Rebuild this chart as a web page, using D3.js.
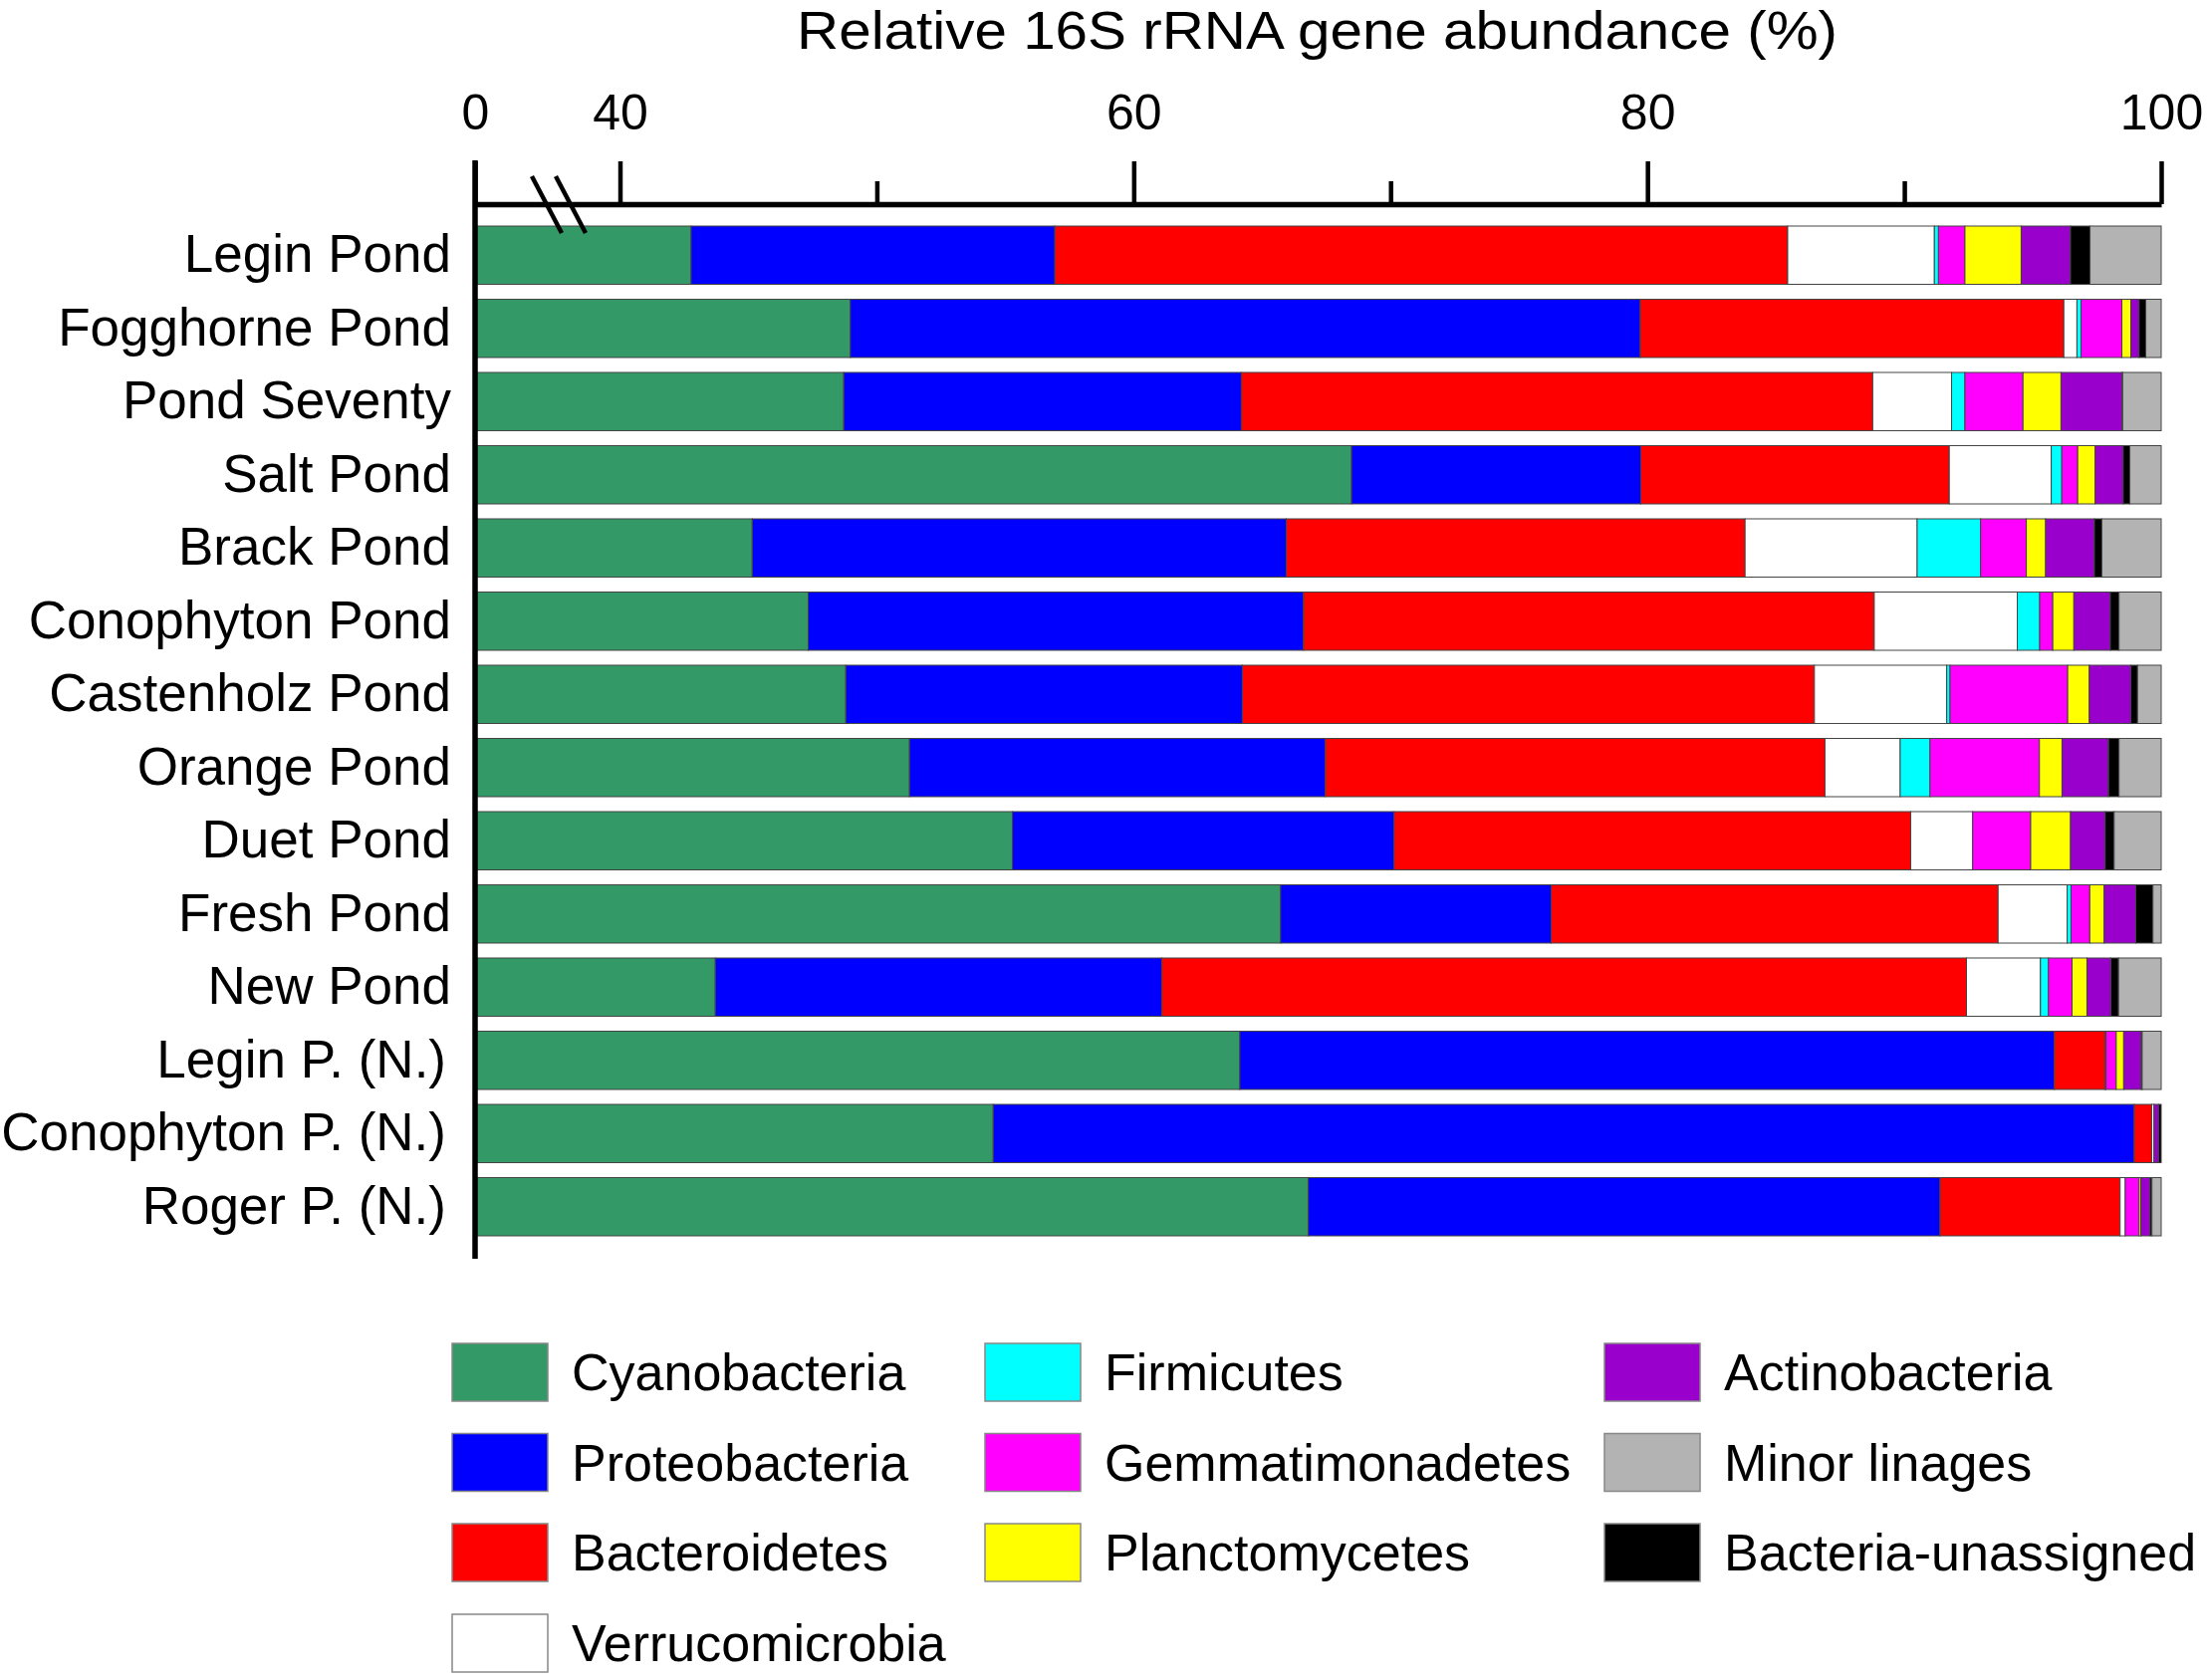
<!DOCTYPE html>
<html>
<head>
<meta charset="utf-8">
<script src="https://cdn.jsdelivr.net/npm/d3@7"></script>
<style>
  html, body { margin: 0; padding: 0; background: #fff; }
  svg { display: block; }
  text { font-family: "Liberation Sans", Arial, sans-serif; fill: #000; }
</style>
</head>
<body>
<svg id="chart" width="2217" height="1687"></svg>
<script>
// ---------------- DATA ----------------
const categories = ["Legin Pond", "Fogghorne Pond", "Pond Seventy", "Salt Pond", "Brack Pond",
  "Conophyton Pond", "Castenholz Pond", "Orange Pond", "Duet Pond", "Fresh Pond", "New Pond",
  "Legin P. (N.)", "Conophyton P. (N.)", "Roger P. (N.)"];

const phyla = ["Cyanobacteria", "Proteobacteria", "Bacteroidetes", "Verrucomicrobia", "Firmicutes",
  "Gemmatimonadetes", "Planctomycetes", "Actinobacteria", "Bacteria-unassigned", "Minor linages"];

const cyanobacteria    = [42.77, 48.97, 48.71, 68.48, 45.15, 47.33, 48.79, 51.27, 55.28, 65.72, 43.71, 64.13, 54.53, 66.80];
const proteobacteria   = [14.16, 30.75, 15.48, 11.26, 20.79, 19.28, 15.44, 16.19, 14.86, 10.53, 17.38, 31.71, 44.42, 24.59];
const bacteroidetes    = [28.53, 16.49, 24.58, 12.01, 17.86, 22.22, 22.27, 19.45, 20.11, 17.40, 31.33, 1.97, 0.68, 7.01];
const verrucomicrobia  = [5.71, 0.51, 3.07, 3.97, 6.70, 5.57, 5.15, 2.93, 2.41, 2.69, 2.88, 0.04, 0.09, 0.20];
const firmicutes       = [0.16, 0.16, 0.52, 0.41, 2.47, 0.87, 0.13, 1.16, 0.00, 0.15, 0.31, 0.00, 0.00, 0.00];
const gemmatimonadetes = [1.03, 1.59, 2.26, 0.62, 1.78, 0.51, 4.58, 4.26, 2.26, 0.73, 0.92, 0.40, 0.00, 0.54];
const planctomycetes   = [2.19, 0.35, 1.48, 0.68, 0.75, 0.82, 0.84, 0.88, 1.55, 0.56, 0.58, 0.29, 0.00, 0.07];
const actinobacteria   = [1.92, 0.32, 2.37, 1.09, 1.90, 1.42, 1.62, 1.81, 1.35, 1.23, 0.93, 0.68, 0.18, 0.36];
const unassigned       = [0.76, 0.26, 0.03, 0.26, 0.29, 0.34, 0.26, 0.41, 0.35, 0.67, 0.30, 0.04, 0.10, 0.07];
const minorLinages     = [2.77, 0.60, 1.50, 1.22, 2.31, 1.64, 0.92, 1.64, 1.83, 0.32, 1.66, 0.74, 0.00, 0.36];

const seriesValues = [cyanobacteria, proteobacteria, bacteroidetes, verrucomicrobia, firmicutes,
  gemmatimonadetes, planctomycetes, actinobacteria, unassigned, minorLinages];

const majorTicks = [0, 40, 60, 80, 100];
const minorTicks = [50, 70, 90];

const colors = {
  "Cyanobacteria": "#339966",
  "Proteobacteria": "#0000FF",
  "Bacteroidetes": "#FF0000",
  "Verrucomicrobia": "#FFFFFF",
  "Firmicutes": "#00FFFF",
  "Gemmatimonadetes": "#FF00FF",
  "Planctomycetes": "#FFFF00",
  "Actinobacteria": "#9900CC",
  "Bacteria-unassigned": "#000000",
  "Minor linages": "#B3B3B3"
};

// legend layout: columns of keys
const legendColumns = [
  ["Cyanobacteria", "Proteobacteria", "Bacteroidetes", "Verrucomicrobia"],
  ["Firmicutes", "Gemmatimonadetes", "Planctomycetes"],
  ["Actinobacteria", "Minor linages", "Bacteria-unassigned"]
];

// ---------------- BUILD TABLE ----------------
const table = categories.map((c, i) => {
  const row = { category: c };
  phyla.forEach((p, j) => { row[p] = seriesValues[j][i]; });
  return row;
});
const stacked = d3.stack().keys(phyla)(table);

// ---------------- SCALES ----------------
const svg = d3.select("#chart");
const axisY = 205;
const x = d3.scaleLinear().domain([0, 40, 100]).range([477, 622.5, 2170]);
const y = d3.scaleBand().domain(categories).range([227, 1241]).paddingInner(0.204).paddingOuter(0);

// ---------------- BARS ----------------
const gBars = svg.append("g");
gBars.selectAll("g.layer")
  .data(stacked)
  .join("g")
  .attr("class", "layer")
  .attr("fill", d => colors[d.key])
  .selectAll("rect")
  .data(d => d.map(v => ({ v, key: d.key })))
  .join("rect")
  .attr("x", d => x(d.v[0]))
  .attr("y", d => y(d.v.data.category))
  .attr("width", d => Math.max(0, x(d.v[1]) - x(d.v[0])))
  .attr("height", y.bandwidth())
  .attr("stroke", d => (d.v[1] - d.v[0]) > 0 ? "#444" : "none")
  .attr("stroke-width", 1);

// ---------------- AXES ----------------
const gx = svg.append("g").attr("transform", `translate(0,${axisY})`)
  .call(d3.axisTop(x).tickValues(majorTicks).tickSize(43).tickPadding(32).tickSizeOuter(0)
    .tickFormat(d3.format("d")));
gx.select(".domain").attr("stroke", "#000").attr("stroke-width", 5.5);
gx.selectAll(".tick line").attr("stroke", "#000").attr("stroke-width", 4.5);
gx.selectAll(".tick text").attr("font-size", 50).attr("font-family", "Liberation Sans, Arial, sans-serif").attr("fill", "#000");

const gxm = svg.append("g").attr("transform", `translate(0,${axisY})`)
  .call(d3.axisTop(x).tickValues(minorTicks).tickSize(23).tickFormat(""));
gxm.select(".domain").remove();
gxm.selectAll(".tick line").attr("stroke", "#000").attr("stroke-width", 4.5);

// category axis (labels) + vertical axis line
const gy = svg.append("g").attr("transform", `translate(${x(0)},0)`)
  .call(d3.axisLeft(y).tickSize(0).tickPadding(24));
gy.select(".domain").remove();
gy.selectAll(".tick text").attr("font-size", 53).attr("font-family", "Liberation Sans, Arial, sans-serif").attr("fill", "#000")
  .attr("dx", d => /\)$/.test(d) ? -5 : 0);
svg.append("line")
  .attr("x1", x(0)).attr("x2", x(0))
  .attr("y1", 161).attr("y2", 1264)
  .attr("stroke", "#000").attr("stroke-width", 5.5);

// axis break marks
const breakG = svg.append("g").attr("stroke", "#000").attr("stroke-width", 4.5);
breakG.append("line").attr("x1", 534).attr("y1", 177).attr("x2", 564).attr("y2", 234);
breakG.append("line").attr("x1", 558).attr("y1", 177).attr("x2", 588).attr("y2", 234);

// title
svg.append("text")
  .attr("x", 800).attr("y", 49)
  .attr("font-size", 53)
  .attr("textLength", 1045)
  .attr("lengthAdjust", "spacingAndGlyphs")
  .text("Relative 16S rRNA gene abundance (%)");

// ---------------- LEGEND ----------------
const colX = [454, 989, 1611];
const rowY = [1349, 1439.5, 1530, 1621];
const lg = svg.append("g");
legendColumns.forEach((col, ci) => {
  col.forEach((key, ri) => {
    const g = lg.append("g").attr("transform", `translate(${colX[ci]},${rowY[ri]})`);
    g.append("rect").attr("width", 96).attr("height", 58)
      .attr("fill", colors[key]).attr("stroke", "#888").attr("stroke-width", 1.5);
    g.append("text").attr("x", 120).attr("y", 29 + 18)
      .attr("font-size", 52).text(key);
  });
});
</script>
</body>
</html>
